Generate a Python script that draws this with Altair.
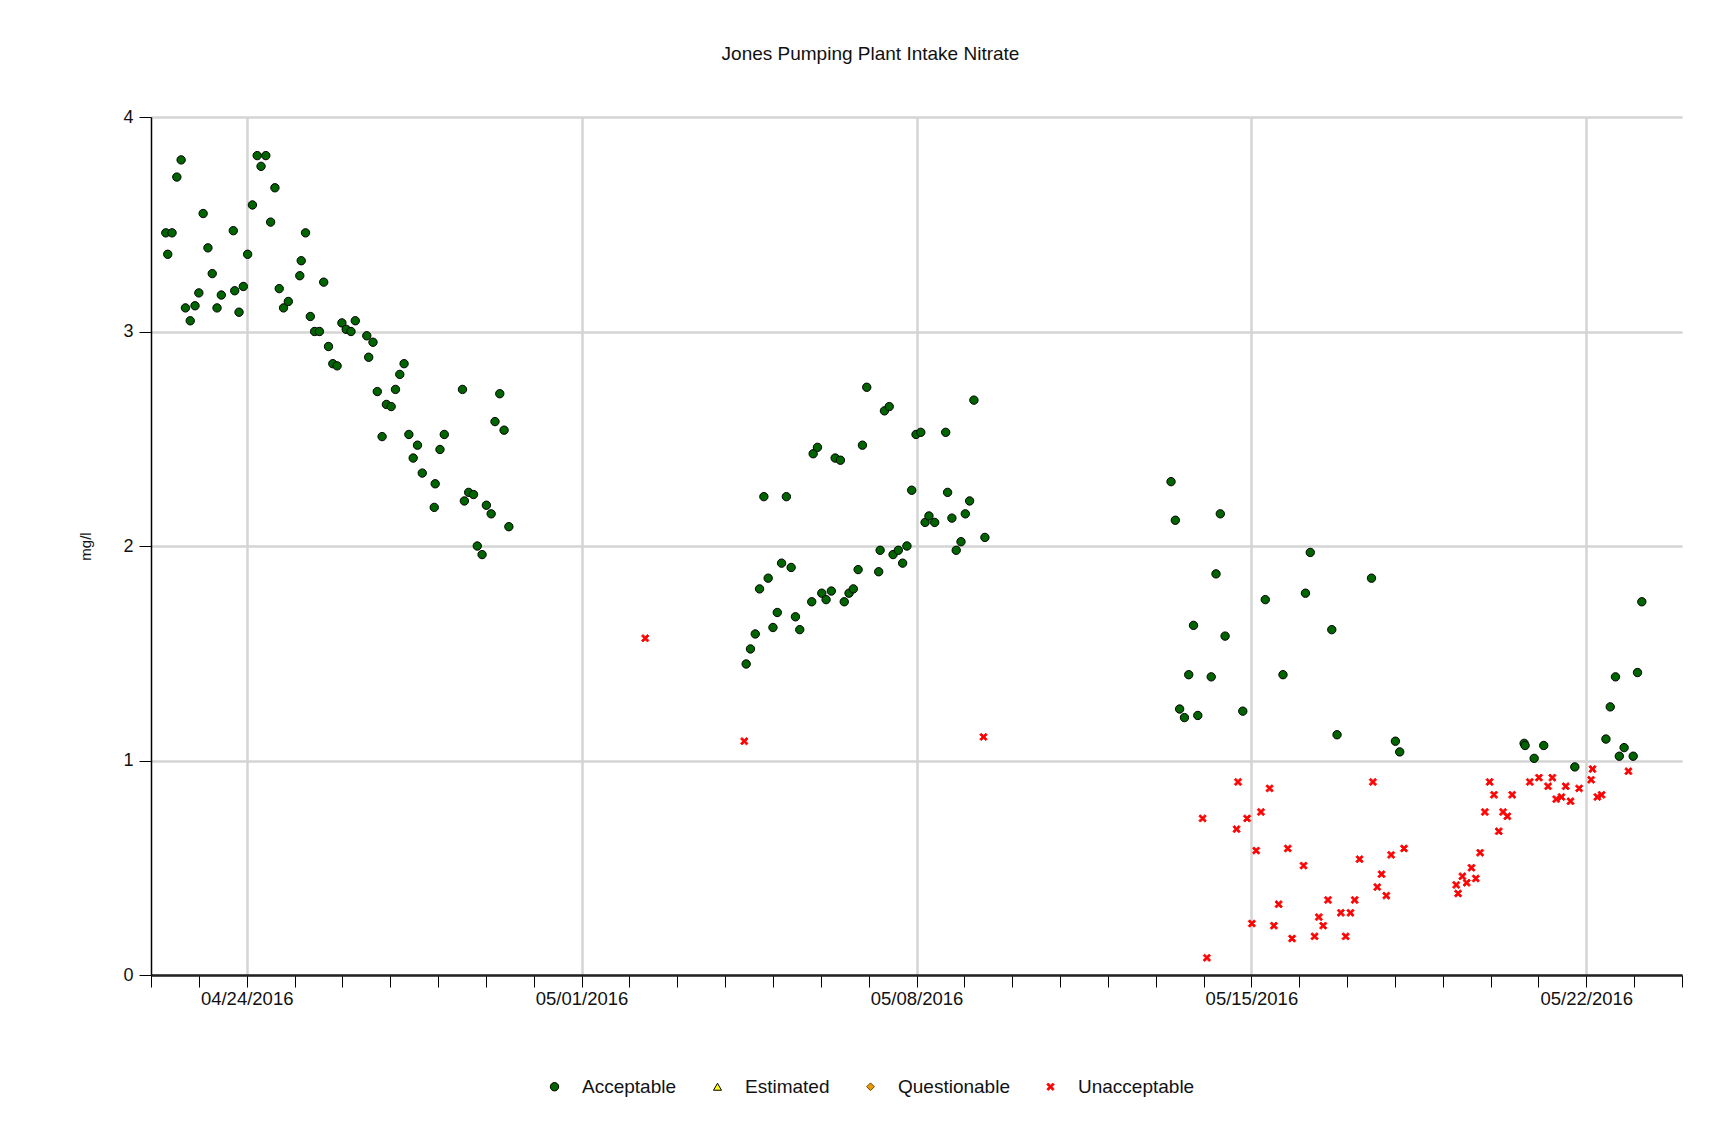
import altair as alt
import pandas as pd

# ---------------- data ----------------
# Acceptable, first group: days after 2016-04-24 00:00
acc1_day = [-1.69, -1.65, -1.56, -1.46, -1.37, -1.28, -1.18, -1.08, -1.00, -0.91,
            -0.81, -0.72, -0.62, -0.53, -0.28, -0.25, -0.16, -0.07, 0.02, 0.12,
            0.22, 0.30, 0.40, 0.50, 0.59, 0.68, 0.77, 0.87, 1.11, 1.14,
            1.23, 1.33, 1.42, 1.52, 1.61, 1.71, 1.80, 1.89, 1.99, 2.08,
            2.18, 2.27, 2.51, 2.55, 2.64, 2.73, 2.83, 2.92, 3.02, 3.11,
            3.20, 3.29, 3.39, 3.48, 3.57, 3.67, 3.92, 3.94, 4.04, 4.13,
            4.51, 4.55, 4.64, 4.74, 4.82, 4.92, 5.01, 5.11, 5.19, 5.29,
            5.38, 5.48]
acc1_val = [3.46, 3.36, 3.46, 3.72, 3.80, 3.11, 3.05, 3.12, 3.18, 3.55,
            3.39, 3.27, 3.11, 3.17, 3.47, 3.19, 3.09, 3.21, 3.36, 3.59,
            3.82, 3.77, 3.82, 3.51, 3.67, 3.20, 3.11, 3.14, 3.26, 3.33,
            3.46, 3.07, 3.00, 3.00, 3.23, 2.93, 2.85, 2.84, 3.04, 3.01,
            3.00, 3.05, 2.98, 2.88, 2.95, 2.72, 2.51, 2.66, 2.65, 2.73,
            2.80, 2.85, 2.52, 2.41, 2.47, 2.34, 2.18, 2.29, 2.45, 2.52,
            2.73, 2.21, 2.25, 2.24, 2.00, 1.96, 2.19, 2.15, 2.58, 2.71,
            2.54, 2.09]

# Acceptable, second group: days after 2016-05-08 00:00
acc2_day = [-3.56, -3.47, -3.37, -3.28, -3.19, -3.10, -3.00, -2.91, -2.82, -2.72,
            -2.62, -2.53, -2.44, -2.19, -2.16, -2.07, -1.98, -1.89, -1.78, -1.70,
            -1.59, -1.51, -1.41, -1.32, -1.22, -1.13, -1.04, -0.79, -0.76, -0.67,
            -0.57, -0.49, -0.38, -0.29, -0.20, -0.10, -0.01, 0.09, 0.18, 0.26,
            0.38, 0.61, 0.65, 0.74, 0.83, 0.93, 1.02, 1.11, 1.20, 1.43]
acc2_val = [1.45, 1.52, 1.59, 1.80, 2.23, 1.85, 1.62, 1.69, 1.92, 2.23,
            1.90, 1.67, 1.61, 1.74, 2.43, 2.46, 1.78, 1.75, 1.79, 2.41,
            2.40, 1.74, 1.78, 1.80, 1.89, 2.47, 2.74, 1.88, 1.98, 2.63,
            2.65, 1.96, 1.98, 1.92, 2.00, 2.26, 2.52, 2.53, 2.11, 2.14,
            2.11, 2.53, 2.25, 2.13, 1.98, 2.02, 2.15, 2.21, 2.68, 2.04]

# Acceptable, third group: days after 2016-05-15 00:00
acc3_day = [-1.68, -1.59, -1.50, -1.40, -1.31, -1.21, -1.12, -0.84, -0.74, -0.65,
            -0.55, -0.18, 0.29, 0.66, 1.13, 1.23, 1.68, 1.79, 2.51, 3.01, 3.10]
acc3_val = [2.30, 2.12, 1.24, 1.20, 1.40, 1.63, 1.21, 1.39, 1.87, 2.15,
            1.58, 1.23, 1.75, 1.40, 1.78, 1.97, 1.61, 1.12, 1.85, 1.09, 1.04]

# Acceptable, fourth group: days after 2016-05-22 00:00
acc4_day = [-1.30, -1.28, -1.09, -0.89, -0.24, 0.41, 0.50, 0.61, 0.69, 0.79,
            0.98, 1.07, 1.16]
acc4_val = [1.08, 1.07, 1.01, 1.07, 0.97, 1.10, 1.25, 1.39, 1.02, 1.06,
            1.02, 1.41, 1.74]

# Unacceptable, scattered: days after 2016-05-08 00:00
una1_day = [-5.67, -3.60, 1.40]
una1_val = [1.57, 1.09, 1.11]

# Unacceptable: days after 2016-05-15 00:00
una2_day = [-1.02, -0.93, -0.31, -0.28, -0.09, 0.01, 0.10, 0.20, 0.38, 0.47,
            0.57, 0.76, 0.85, 1.09, 1.32, 1.41, 1.50, 1.60, 1.87, 1.97,
            2.07, 2.16, 2.26, 2.54, 2.63, 2.72, 2.82, 2.92, 3.19]
una2_val = [0.73, 0.08, 0.68, 0.90, 0.73, 0.24, 0.58, 0.76, 0.87, 0.23,
            0.33, 0.59, 0.17, 0.51, 0.18, 0.27, 0.23, 0.35, 0.29, 0.18,
            0.29, 0.35, 0.54, 0.90, 0.41, 0.47, 0.37, 0.56, 0.59]

# Unacceptable: days after 2016-05-22 00:00
una3_day = [-2.72, -2.68, -2.59, -2.50, -2.40, -2.31, -2.22, -2.12, -2.02, -1.93,
            -1.83, -1.74, -1.65, -1.55, -1.18, -0.99, -0.80, -0.71, -0.63, -0.52,
            -0.43, -0.33, -0.15, 0.10, 0.13, 0.23, 0.32, 0.88]
una3_val = [0.42, 0.38, 0.46, 0.43, 0.50, 0.45, 0.57, 0.76, 0.90, 0.84,
            0.67, 0.76, 0.74, 0.84, 0.90, 0.92, 0.88, 0.92, 0.82, 0.83,
            0.88, 0.81, 0.87, 0.91, 0.96, 0.83, 0.84, 0.95]

quality_names = ["Acceptable", "Estimated", "Questionable", "Unacceptable"]

# ---------------- build table ----------------
def seg(base, days, vals, q):
    t = pd.to_datetime(base) + pd.to_timedelta(days, unit="D")
    return pd.DataFrame({"time": t, "value": vals, "Quality": q})

df = pd.concat([
    seg("2016-05-08", una1_day, una1_val, "Unacceptable"),
    seg("2016-05-15", una2_day, una2_val, "Unacceptable"),
    seg("2016-05-22", una3_day, una3_val, "Unacceptable"),
    seg("2016-04-24", acc1_day, acc1_val, "Acceptable"),
    seg("2016-05-08", acc2_day, acc2_val, "Acceptable"),
    seg("2016-05-15", acc3_day, acc3_val, "Acceptable"),
    seg("2016-05-22", acc4_day, acc4_val, "Acceptable"),
], ignore_index=True)

# ---------------- styling ----------------
FONT = "Liberation Sans"
X_PATH = "M-1,-0.6L-0.6,-1L0,-0.4L0.6,-1L1,-0.6L0.4,0L1,0.6L0.6,1L0,0.4L-0.6,1L-1,0.6L-0.4,0Z"

fill_range = ["#006400", "#ffff00", "#e89a00", "#ff0000"]
stroke_range = ["#000000", "#000000", "#6b4500", "#ff1010"]
shape_range = ["circle", "triangle-up", "diamond", X_PATH]
size_range = [70, 55, 50, 55]

days = pd.date_range("2016-04-22", "2016-05-24", freq="D")
x_values = [alt.DateTime(year=d.year, month=d.month, date=d.day) for d in days]

leg = alt.Legend(
    title=None, orient="none", legendX=394, legendY=960, direction="horizontal",
    labelFontSize=19, labelFont=FONT, labelColor="#111111", labelOffset=18,
    columnPadding=31, symbolStrokeWidth=1, padding=0,
)

sunday = "day(datum.value) == 0"

chart = alt.Chart(df).mark_point(filled=True, strokeWidth=1, opacity=1).encode(
    x=alt.X(
        "time:T",
        scale=alt.Scale(
            domain=[alt.DateTime(year=2016, month=4, date=22),
                    alt.DateTime(year=2016, month=5, date=24)],
            nice=False,
        ),
        axis=alt.Axis(
            title=None, values=x_values,
            labelExpr=f"{sunday} ? timeFormat(datum.value, '%m/%d/%Y') : ''",
            labelOverlap=False, labelFlush=False,
            labelFontSize=18.5, labelFont=FONT, labelColor="#111111", labelPadding=2,
            tickSize=12, tickColor="black", tickWidth=1,
            domainColor="#222222", domainWidth=2.5,
            grid=True, gridColor="#d4d4d4", gridWidth=2.5,
            gridOpacity={"condition": {"test": sunday, "value": 1}, "value": 0},
        ),
    ),
    y=alt.Y(
        "value:Q",
        scale=alt.Scale(domain=[0, 4], nice=False),
        axis=alt.Axis(
            title="mg/l", values=[0, 1, 2, 3, 4], format="d",
            labelFontSize=18, labelFont=FONT, labelColor="#111111", labelPadding=6,
            tickSize=12, tickColor="black", tickWidth=1,
            domainColor="black", domainWidth=1.5,
            grid=True, gridColor="#d4d4d4", gridWidth=2.5,
            titleFontSize=15, titleFont=FONT, titleFontWeight="normal",
            titleColor="#111111", titleX=-58,
        ),
    ),
    fill=alt.Fill("Quality:N", scale=alt.Scale(domain=quality_names, range=fill_range), legend=leg),
    stroke=alt.Stroke("Quality:N", scale=alt.Scale(domain=quality_names, range=stroke_range), legend=leg),
    shape=alt.Shape("Quality:N", scale=alt.Scale(domain=quality_names, range=shape_range), legend=leg),
    size=alt.Size("Quality:N", scale=alt.Scale(domain=quality_names, range=size_range), legend=leg),
).properties(
    width=1531,
    height=858,
    autosize=alt.AutoSizeParams(type="none"),
    padding={"left": 143, "top": 109, "right": 40, "bottom": 140},
    title=alt.TitleParams(
        text="Jones Pumping Plant Intake Nitrate", fontSize=19, fontWeight="normal",
        font=FONT, color="#111111", anchor="middle", dx=-46, offset=44,
    ),
).configure_view(strokeWidth=0)

chart.save("out.html", embed_options={"renderer": "svg", "actions": False})
